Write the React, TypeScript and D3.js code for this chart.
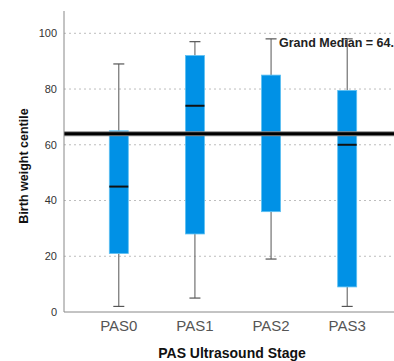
import React, { useEffect, useRef } from 'react';
import * as d3 from 'd3';

const stages = ['PAS0', 'PAS1', 'PAS2', 'PAS3'];
const whiskerLow = [2, 5, 19, 2];
const boxLow = [21, 28, 36, 9];
const medians = [45, 74, 64, 60];
const boxHigh = [65, 92, 85, 79.5];
const whiskerHigh = [89, 97, 98, 98];
const yTicks = [0, 20, 40, 60, 80, 100];
const grandMedian = 64.0;

const App = () => {
  const svgRef = useRef<SVGSVGElement>(null);

  useEffect(() => {
    const svg = d3.select(svgRef.current);
    svg.selectAll('*').remove();

    const width = 394;
    const height = 361;
    const left = 64;
    const bottom = 312;

    const x = d3.scalePoint<string>()
      .domain(stages)
      .range([left, 402])
      .padding(0.72);

    const y = d3.scaleLinear()
      .domain([0, 108])
      .range([bottom, 11]);

    svg.append('rect').attr('width', width).attr('height', height).attr('fill', '#fff');

    // gridlines
    svg.append('g')
      .selectAll('line')
      .data(yTicks.filter(d => d > 0))
      .enter().append('line')
        .attr('x1', left).attr('x2', width)
        .attr('y1', d => y(d)).attr('y2', d => y(d))
        .attr('stroke', '#bdbdbd')
        .attr('stroke-width', 1)
        .attr('stroke-dasharray', '2,3');

    const data = stages.map((s, i) => ({
      stage: s,
      wl: whiskerLow[i], bl: boxLow[i], med: medians[i], bh: boxHigh[i], wh: whiskerHigh[i],
    }));
    const bw = 19;
    const cap = 11;

    const g = svg.append('g').selectAll('g').data(data).enter().append('g');
    // whiskers
    g.append('line')
      .attr('x1', d => x(d.stage)!).attr('x2', d => x(d.stage)!)
      .attr('y1', d => y(d.wl)).attr('y2', d => y(d.bl))
      .attr('stroke', '#555').attr('stroke-width', 1);
    g.append('line')
      .attr('x1', d => x(d.stage)!).attr('x2', d => x(d.stage)!)
      .attr('y1', d => y(d.bh)).attr('y2', d => y(d.wh))
      .attr('stroke', '#555').attr('stroke-width', 1);
    g.append('line')
      .attr('x1', d => x(d.stage)! - cap / 2).attr('x2', d => x(d.stage)! + cap / 2)
      .attr('y1', d => y(d.wl)).attr('y2', d => y(d.wl))
      .attr('stroke', '#555').attr('stroke-width', 1.2);
    g.append('line')
      .attr('x1', d => x(d.stage)! - cap / 2).attr('x2', d => x(d.stage)! + cap / 2)
      .attr('y1', d => y(d.wh)).attr('y2', d => y(d.wh))
      .attr('stroke', '#555').attr('stroke-width', 1.2);
    // boxes
    g.append('rect')
      .attr('x', d => x(d.stage)! - bw / 2)
      .attr('y', d => y(d.bh))
      .attr('width', bw)
      .attr('height', d => y(d.bl) - y(d.bh))
      .attr('fill', '#0091E6')
      .attr('stroke', '#5DC0F2')
      .attr('stroke-width', 0.8);
    g.append('line')
      .attr('x1', d => x(d.stage)! - bw / 2).attr('x2', d => x(d.stage)! + bw / 2)
      .attr('y1', d => y(d.med)).attr('y2', d => y(d.med))
      .attr('stroke', '#111').attr('stroke-width', 2);

    // grand median
    svg.append('line')
      .attr('x1', left).attr('x2', width)
      .attr('y1', y(grandMedian)).attr('y2', y(grandMedian))
      .attr('stroke', '#888').attr('stroke-width', 5);
    svg.append('line')
      .attr('x1', left).attr('x2', width)
      .attr('y1', y(grandMedian)).attr('y2', y(grandMedian))
      .attr('stroke', '#000').attr('stroke-width', 3);
    svg.append('text')
      .attr('x', 279).attr('y', 47)
      .attr('font-family', 'Liberation Sans, Arial, sans-serif')
      .attr('font-weight', 'bold')
      .attr('font-size', 12.5)
      .attr('fill', '#222')
      .text(`Grand Median = ${grandMedian.toFixed(1)}`);

    // axes
    svg.append('line')
      .attr('x1', left).attr('x2', left)
      .attr('y1', y(108)).attr('y2', bottom)
      .attr('stroke', '#888');
    svg.append('line')
      .attr('x1', left).attr('x2', width)
      .attr('y1', bottom).attr('y2', bottom)
      .attr('stroke', '#888');

    svg.append('g')
      .selectAll('text')
      .data(yTicks)
      .enter().append('text')
        .attr('x', 57)
        .attr('y', d => y(d))
        .attr('dy', '0.35em')
        .attr('text-anchor', 'end')
        .attr('font-family', 'Liberation Sans, Arial, sans-serif')
        .attr('font-size', 11)
        .attr('fill', '#333')
        .text(d => d);

    svg.append('g')
      .selectAll('text')
      .data(stages)
      .enter().append('text')
        .attr('x', d => x(d)!)
        .attr('y', 331)
        .attr('text-anchor', 'middle')
        .attr('font-family', 'Liberation Sans, Arial, sans-serif')
        .attr('font-size', 15)
        .attr('fill', '#555')
        .text(d => d);

    svg.append('text')
      .attr('x', 232).attr('y', 358)
      .attr('text-anchor', 'middle')
      .attr('font-family', 'Liberation Sans, Arial, sans-serif')
      .attr('font-weight', 'bold')
      .attr('font-size', 14)
      .attr('fill', '#111')
      .text('PAS Ultrasound Stage');

    svg.append('text')
      .attr('transform', 'translate(28,166) rotate(-90)')
      .attr('text-anchor', 'middle')
      .attr('font-family', 'Liberation Sans, Arial, sans-serif')
      .attr('font-weight', 'bold')
      .attr('font-size', 12.5)
      .attr('fill', '#111')
      .text('Birth weight centile');
  }, []);

  return (
    <svg
      ref={svgRef}
      width={394}
      height={361}
      style={{ position: 'absolute', left: 0, top: 0 }}
    ></svg>
  );
};

export default App;
